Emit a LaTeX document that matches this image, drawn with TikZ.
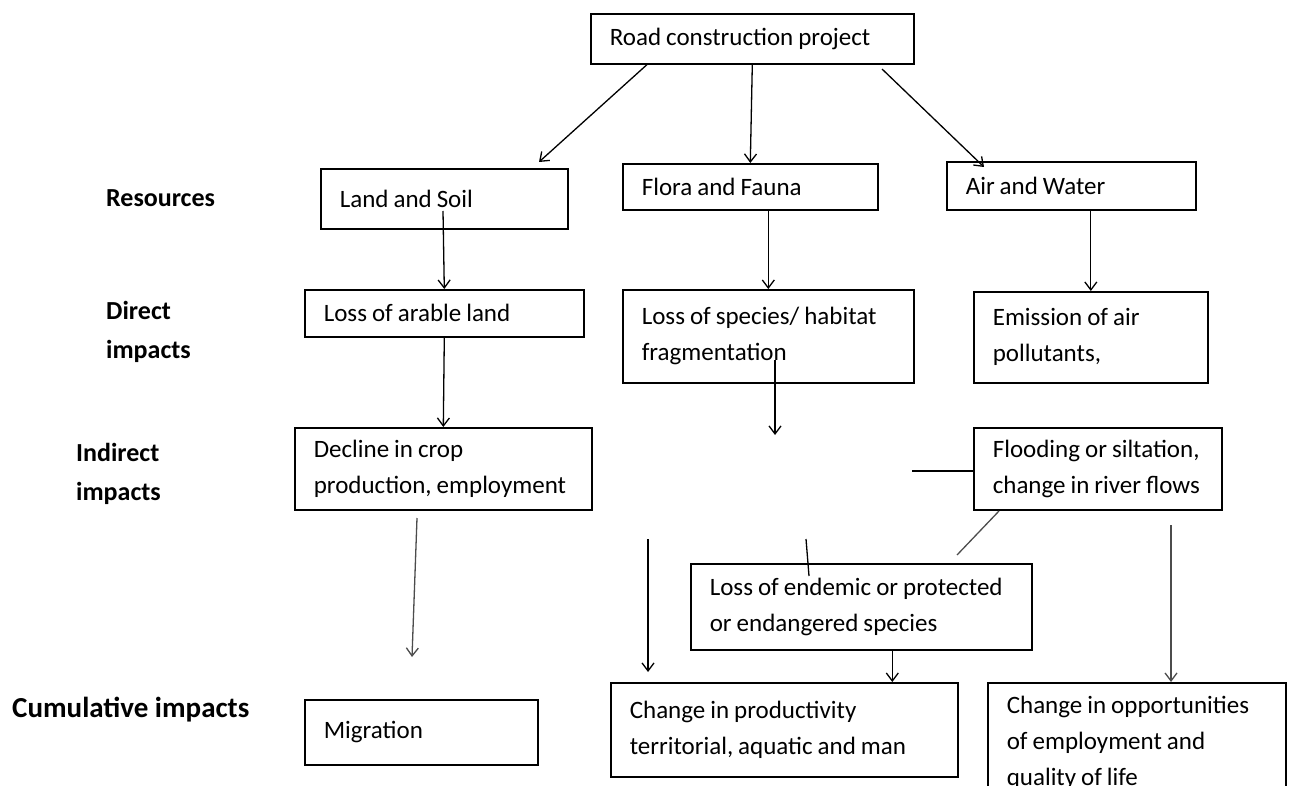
\documentclass[tikz,border=0pt]{standalone}
\usepackage{fontspec}
\setmainfont{Carlito}
\usetikzlibrary{positioning}
\usetikzlibrary{arrows.meta}
\tikzset{box/.style={draw, line width=1.6pt, anchor=north west, align=left, inner xsep=19pt, inner ysep=0pt, font=\fontsize{25}{36}\selectfont, execute at begin node={\spaceskip=5pt plus 1.5pt\relax\hyphenpenalty=10000\relax}}}
\tikzset{lbl/.style={anchor=west, align=left, inner sep=0pt, font=\bfseries\fontsize{26}{39}\selectfont}}
\tikzset{arr/.style={->, line width=1.3pt}}
\tikzset{link/.style={line width=1.3pt}}

\begin{document}
\begin{tikzpicture}[x=1pt, y=-1pt, >={Straight Barb[length=8pt,width=12pt]}]
\useasboundingbox (0,0) rectangle (1289,786);
% row labels
\node[lbl] (res) at (106,198) {Resources};
\node[lbl] (direct) at (106,332) {Direct\\impacts};
\node[lbl] (indirect) at (76,474) {Indirect\\impacts};
\node[lbl, font=\bfseries\fontsize{29}{34}\selectfont] (cumul) at (12,710) {Cumulative impacts};
% boxes
\node[box, text width=285pt, minimum height=50pt] (road) at (590,13) {Road construction project};
\node[box, text width=209pt, minimum height=60pt] (land) at (320,168) {Land and Soil};
\node[box, text width=217pt, minimum height=46pt] (flora) at (622,163) {Flora and Fauna};
\node[box, text width=211pt, minimum height=48pt] (air) at (946,161) {Air and Water};
\node[box, text width=241pt, minimum height=47pt] (lossland) at (304,289) {Loss of arable land};
\node[box, text width=253pt, minimum height=93pt] (lossspec) at (622,289) {Loss of species/ habitat\\fragmentation};
\node[box, text width=196pt, minimum height=91pt] (emission) at (973,291) {Emission of air\\pollutants,};
\node[box, text width=259pt, minimum height=82pt] (decline) at (294,427) {Decline in crop\\production, employment};
\node[box, text width=210pt, minimum height=82pt] (flood) at (973,427) {Flooding or siltation,\\change in river flows};
\node[box, text width=303pt, minimum height=86pt] (endemic) at (690,563) {Loss of endemic or protected\\or endangered species};
\node[box, text width=195pt, minimum height=65pt] (migration) at (304,699) {Migration};
\node[box, text width=309pt, minimum height=94pt] (prod) at (610,682) {Change in productivity\\territorial, aquatic and man};
\node[box, text width=260pt, minimum height=120pt] (opp) at (987,682) {Change in opportunities\\of employment and\\quality of life};
% free ends
\coordinate (landtip) at (539,162);
\coordinate (airtail) at (882,69);
\coordinate (airtip) at (984,167);
\coordinate (landstem) at (443,211);
\coordinate (specstem) at (775,360);
\coordinate (spectip) at (775,435);
\coordinate (declinetail) at (417,518);
\coordinate (migtip) at (412,657);
\coordinate (floodend) at (912,471);
\coordinate (diagtop) at (999,511);
\coordinate (diagbot) at (957,555);
\coordinate (ticktop) at (806,539);
\coordinate (tickbot) at (809,576);
\coordinate (lefttail) at (648,539);
\coordinate (lefttip) at (648,672);
\coordinate (opptail) at (1171,525);
% connectors
\draw[arr] ([xshift=57pt]road.south west) -- (landtip);
\draw[arr] (road.south) -- (flora.north);
\draw[arr] (airtail) -- (airtip);
\draw[arr] (landstem) -- (lossland.north);
\draw[arr] (lossspec.north |- flora.south) -- (lossspec.north);
\draw[arr] (emission.north |- air.south) -- (emission.north);
\draw[arr] (lossland.south) -- (decline.north);
\draw[arr] (specstem) -- (spectip);
\draw[arr, gray!60!black] (declinetail) -- (migtip);
\draw[link] (flood.west |- floodend) -- (floodend);
\draw[link, gray!60!black] (diagtop) -- (diagbot);
\draw[link] (ticktop) -- (tickbot);
\draw[arr] (lefttail) -- (lefttip);
\draw[arr] ([xshift=31pt]endemic.south) -- ([xshift=31pt]endemic.south |- prod.north);
\draw[arr, gray!60!black] (opptail) -- (opptail |- opp.north);
\end{tikzpicture}
\end{document}
